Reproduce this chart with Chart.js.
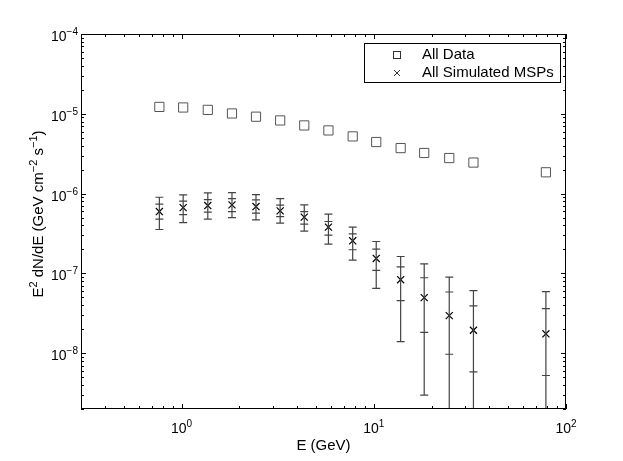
<!DOCTYPE html>
<html lang="en">
<head>
    <meta charset="UTF-8">
    <title>All Data vs All Simulated MSPs</title>
    <script src="https://cdn.jsdelivr.net/npm/chart.js"></script>
    <style>
        html, body { margin: 0; padding: 0; background: white; }
        #chart { display: block; }
    </style>
</head>
<body>
    <canvas id="chart" width="623" height="461"></canvas>
    <script>
        // energy bins (GeV)
        var energy = [0.767, 1.02, 1.37, 1.83, 2.44, 3.26, 4.35, 5.81, 7.77, 10.3, 13.8, 18.3, 24.7, 33.0, 78.6];
        // E^2 dN/dE, all data
        var allData = [1.22e-5, 1.20e-5, 1.12e-5, 1.01e-5, 9.2e-6, 8.26e-6, 7.15e-6, 6.19e-6, 5.21e-6, 4.43e-6, 3.72e-6, 3.23e-6, 2.79e-6, 2.45e-6, 1.85e-6];
        // E^2 dN/dE, all simulated MSPs
        var simMSPs = [5.96e-7, 6.68e-7, 7.08e-7, 7.22e-7, 6.88e-7, 6.08e-7, 5.07e-7, 3.8e-7, 2.56e-7, 1.54e-7, 8.34e-8, 4.97e-8, 2.96e-8, 1.94e-8, 1.75e-8];
        // error bands for the simulated MSPs
        var outerHi = [9.0e-7, 9.63e-7, 1.02e-6, 1.03e-6, 9.72e-7, 8.66e-7, 7.22e-7, 5.52e-7, 3.8e-7, 2.51e-7, 1.63e-7, 1.32e-7, 9.0e-8, 6.08e-8, 5.9e-8];
        var innerHi = [7.37e-7, 8.03e-7, 8.4e-7, 8.66e-7, 8.34e-7, 7.16e-7, 5.96e-7, 4.47e-7, 3.13e-7, 2.02e-7, 1.21e-7, 8.83e-8, 5.85e-8, 3.91e-8, 3.62e-8];
        var innerLo = [4.79e-7, 5.46e-7, 5.85e-7, 5.96e-7, 5.69e-7, 5.16e-7, 4.14e-7, 3.02e-7, 1.98e-7, 1.09e-7, 4.56e-8, 1.82e-8, 9.7e-9, 5.85e-9, 5.26e-9];
        var outerLo = [3.55e-7, 4.34e-7, 4.79e-7, 5.0e-7, 4.69e-7, 4.26e-7, 3.39e-7, 2.33e-7, 1.47e-7, 6.49e-8, 1.4e-8, 2.98e-9, 1e-9, 1e-9, 1e-9];
        // axis decades
        var xDecades = [0, 1, 2];
        var yDecades = [-8, -7, -6, -5, -4];
        var legendLabels = ['All Data', 'All Simulated MSPs'];

        var FONT = '"Liberation Sans", Arial, Helvetica, sans-serif';

        function sup(ctx, parts, x, y, size) {
            // parts: [[text, isSup], ...]; draws left to right from x, baseline y
            var s = size || 14;
            parts.forEach(function (p) {
                ctx.font = (p[1] ? Math.round(s * 0.72) : s) + 'px ' + FONT;
                ctx.fillText(p[0], x, p[1] ? y - Math.round(s * 0.43) : y);
                x += ctx.measureText(p[0]).width;
            });
            return x;
        }
        function supWidth(ctx, parts, size) {
            var s = size || 14, w = 0;
            parts.forEach(function (p) {
                ctx.font = (p[1] ? Math.round(s * 0.72) : s) + 'px ' + FONT;
                w += ctx.measureText(p[0]).width;
            });
            return w;
        }

        var errorBars = {
            id: 'errorBars',
            afterDatasetsDraw: function (chart) {
                var ctx = chart.ctx, xs = chart.scales.x, ys = chart.scales.y, a = chart.chartArea;
                ctx.save();
                ctx.beginPath();
                ctx.rect(a.left, a.top, a.right - a.left, a.bottom - a.top);
                ctx.clip();
                ctx.strokeStyle = '#444';
                ctx.lineWidth = 1.2;
                energy.forEach(function (e, i) {
                    var px = xs.getPixelForValue(e);
                    ctx.beginPath();
                    ctx.moveTo(px, ys.getPixelForValue(outerHi[i]));
                    ctx.lineTo(px, ys.getPixelForValue(outerLo[i]));
                    [outerHi[i], innerHi[i], innerLo[i], outerLo[i]].forEach(function (v) {
                        var py = ys.getPixelForValue(v);
                        ctx.moveTo(px - 4, py);
                        ctx.lineTo(px + 4, py);
                    });
                    ctx.stroke();
                });
                ctx.restore();
            }
        };

        var frame = {
            id: 'frame',
            afterDraw: function (chart) {
                var ctx = chart.ctx, xs = chart.scales.x, ys = chart.scales.y, a = chart.chartArea;
                ctx.save();
                ctx.strokeStyle = '#000';
                ctx.lineWidth = 1;
                ctx.strokeRect(a.left + 0.5, a.top + 0.5, a.right - a.left - 1, a.bottom - a.top - 1);

                // inward ticks on all four sides
                ctx.beginPath();
                for (var d = -1; d <= 2; d++) {
                    for (var m = 1; m <= 9; m++) {
                        var v = m * Math.pow(10, d);
                        if (v < xs.min || v > xs.max) continue;
                        var px = Math.round(xs.getPixelForValue(v)) + 0.5, len = m === 1 ? 5 : 3;
                        ctx.moveTo(px, a.bottom); ctx.lineTo(px, a.bottom - len);
                        ctx.moveTo(px, a.top); ctx.lineTo(px, a.top + len);
                    }
                }
                for (var k = -9; k <= -4; k++) {
                    for (var n = 1; n <= 9; n++) {
                        var w = n * Math.pow(10, k);
                        if (w < ys.min || w > ys.max * 1.0001) continue;
                        var py = Math.round(ys.getPixelForValue(w)) + 0.5, l2 = n === 1 ? 5 : 3;
                        ctx.moveTo(a.left, py); ctx.lineTo(a.left + l2, py);
                        ctx.moveTo(a.right, py); ctx.lineTo(a.right - l2, py);
                    }
                }
                ctx.stroke();

                // tick labels
                ctx.fillStyle = '#000';
                ctx.textAlign = 'left';
                ctx.textBaseline = 'alphabetic';
                xDecades.forEach(function (d) {
                    var parts = [['10', false], [String(d), true]];
                    var px = xs.getPixelForValue(Math.pow(10, d));
                    sup(ctx, parts, px - supWidth(ctx, parts) / 2, 433);
                });
                yDecades.forEach(function (d) {
                    var parts = [['10', false], ['\u2212' + String(-d), true]];
                    var py = ys.getPixelForValue(Math.pow(10, d));
                    sup(ctx, parts, a.left - 3 - supWidth(ctx, parts), py + 7);
                });

                // axis titles
                ctx.font = '15px ' + FONT;
                ctx.textAlign = 'center';
                ctx.textBaseline = 'middle';
                ctx.fillText('E (GeV)', (a.left + a.right) / 2, 446);
                ctx.textAlign = 'left';
                ctx.textBaseline = 'alphabetic';
                var title = [['E', false], ['2', true], [' dN/dE (GeV cm', false], ['\u22122', true], [' s', false], ['\u22121', true], [')', false]];
                ctx.translate(43, 214);
                ctx.rotate(-Math.PI / 2);
                sup(ctx, title, -supWidth(ctx, title, 15) / 2, 0, 15);
                ctx.setTransform(1, 0, 0, 1, 0, 0);

                // legend box
                ctx.fillStyle = '#fff';
                ctx.fillRect(364, 43, 197, 40);
                ctx.strokeRect(364.5, 43.5, 196, 39);
                ctx.fillStyle = '#000';
                ctx.font = '15px ' + FONT;
                ctx.textBaseline = 'middle';
                ctx.fillText(legendLabels[0], 422, 55);
                ctx.fillText(legendLabels[1], 422, 73);
                ctx.strokeStyle = '#333';
                ctx.strokeRect(393.5, 51.5, 7, 7);
                ctx.beginPath();
                ctx.moveTo(394, 70); ctx.lineTo(400, 76);
                ctx.moveTo(400, 70); ctx.lineTo(394, 76);
                ctx.stroke();
                ctx.restore();
            }
        };

        var chart = new Chart(document.getElementById('chart').getContext('2d'), {
            type: 'scatter',
            data: {
                datasets: [{
                    label: legendLabels[0],
                    data: energy.map(function (e, i) { return { x: e, y: allData[i] }; }),
                    pointStyle: 'rect',
                    pointRadius: 6.5,
                    borderColor: '#555',
                    borderWidth: 1,
                    backgroundColor: 'rgba(0,0,0,0)'
                }, {
                    label: legendLabels[1],
                    data: energy.map(function (e, i) { return { x: e, y: simMSPs[i] }; }),
                    pointStyle: 'crossRot',
                    pointRadius: 5,
                    borderColor: '#000',
                    borderWidth: 1.2
                }]
            },
            options: {
                responsive: false,
                animation: false,
                layout: { padding: { top: 34, right: 57, left: 0, bottom: 0 } },
                plugins: { legend: { display: false }, tooltip: { enabled: false } },
                scales: {
                    x: {
                        type: 'logarithmic', min: 0.3, max: 100,
                        grid: { display: false }, border: { display: false }, ticks: { display: false },
                        afterFit: function (s) { s.height = 52; }
                    },
                    y: {
                        type: 'logarithmic', min: 2e-9, max: 1e-4,
                        grid: { display: false }, border: { display: false }, ticks: { display: false },
                        afterFit: function (s) { s.width = 81; }
                    }
                }
            },
            plugins: [errorBars, frame]
        });
    </script>
</body>
</html>
